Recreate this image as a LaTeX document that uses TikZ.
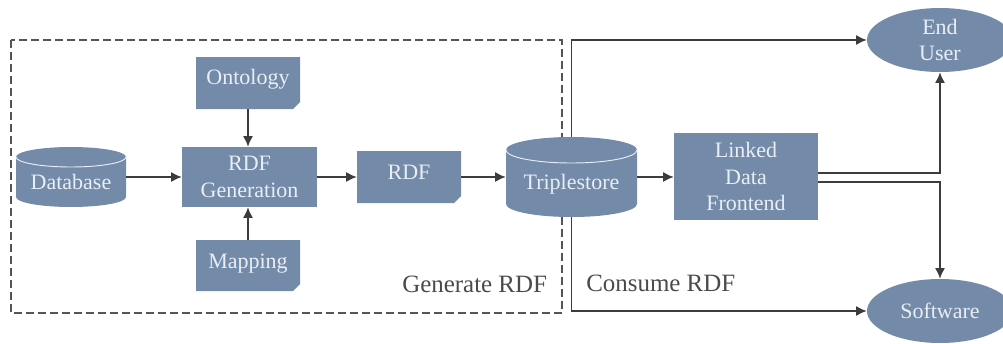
\documentclass[tikz,border=0pt]{standalone}
\usepackage{fontspec}
\setmainfont{Liberation Serif}
\usetikzlibrary{arrows.meta,shapes.geometric}
\definecolor{shapeblue}{HTML}{738AA9}
\definecolor{lighttext}{HTML}{E9EEF4}
\definecolor{linegrey}{HTML}{3C3C3C}
\definecolor{labelgrey}{HTML}{4A4A4A}
\definecolor{dashgrey}{HTML}{555555}
\tikzset{
  shapefill/.style={fill=shapeblue,draw=none},
  boxtext/.style={text=lighttext,align=center,inner sep=0pt,font=\fontsize{16.5}{20}\selectfont},
  holder/.style={draw=none,fill=none,inner sep=0pt,text=lighttext,align=center,font=\fontsize{16.5}{20}\selectfont},
  conn/.style={draw=linegrey,line width=1pt,-{Latex[length=8pt,width=7.5pt]}},
  groupbox/.style={draw=dashgrey,line width=0.9pt,dash pattern=on 6pt off 3pt},
  caption/.style={text=labelgrey,inner sep=0pt,anchor=base west,font=\fontsize{18.7}{22}\selectfont},
  rimline/.style={draw=lighttext,line width=0.7pt}
}
\newcommand{\snipbox}[4]{% x1,y1,x2,y2
  \fill[shapefill] (#1,#2) -- (#3,#2) -- (#3,#4-7) -- (#3-7,#4) -- (#1,#4) -- cycle;}
\newcommand{\drum}[5]{% x1,x2,ytop,ybottom,ry
  \pgfmathsetmacro{\rxv}{(#2-#1)/2}
  \fill[shapefill] (#1,#3+#5) arc[start angle=180,end angle=360,x radius=\rxv,y radius=#5]
    -- (#2,#4-#5) arc[start angle=0,end angle=180,x radius=\rxv,y radius=#5] -- cycle;
  \draw[rimline] (#1,#3+#5) arc[start angle=180,end angle=0,x radius=\rxv,y radius=#5];}
\begin{document}
\begin{tikzpicture}[x=0.75pt,y=-0.75pt]
\useasboundingbox (0,0) rectangle (1003,343);
\clip (0,0) rectangle (1003,343);
% group frame
\coordinate (fa) at (11,40);
\coordinate (fb) at (562,313);
\draw[groupbox] (fa) rectangle (fb);
% shape bodies
\drum{16}{126}{147}{207}{10}
\drum{506}{637}{137}{217}{13}
\snipbox{196}{57}{300}{109}
\snipbox{357}{151}{461}{203}
\snipbox{196}{240}{300}{291}
% nodes
\node[holder,minimum width=82.5pt,minimum height=45pt] (db) at (71,177) {\raisebox{-9pt}[0pt][0pt]{Database}};
\node[holder,minimum width=98.25pt,minimum height=60pt] (ts) at (571.5,177) {\raisebox{-9pt}[0pt][0pt]{Triplestore}};
\node[holder,minimum width=78pt,minimum height=39pt] (onto) at (248,83) {\raisebox{-0.75pt}[0pt][0pt]{Ontology}};
\node[holder,minimum width=78pt,minimum height=39pt] (rdf) at (409,177) {\raisebox{-1.5pt}[0pt][0pt]{RDF}};
\node[holder,minimum width=78pt,minimum height=38.25pt] (map) at (248,265.5) {\raisebox{-2pt}[0pt][0pt]{Mapping}};
\node[boxtext,fill=shapeblue,minimum width=101.25pt,minimum height=45pt] (gen) at (249.5,177) {RDF\\Generation};
\node[boxtext,fill=shapeblue,minimum width=108pt,minimum height=65.25pt] (lod) at (746,176.5) {Linked\\Data\\Frontend};
\node[boxtext,fill=shapeblue,ellipse,minimum width=109.5pt,minimum height=48pt] (user) at (940,40) {End\\User};
\node[boxtext,fill=shapeblue,ellipse,minimum width=109.5pt,minimum height=48pt] (soft) at (940,311) {Software};
% connectors
\draw[conn] (db.east) -- (gen.west);
\draw[conn] (onto.south) -- (gen.north -| onto.south);
\draw[conn] (map.north) -- (gen.south -| map.north);
\draw[conn] (gen.east) -- (rdf.west);
\draw[conn] (rdf.east) -- (ts.west);
\draw[conn] (ts.east) -- (lod.west |- ts.east);
\draw[conn] (ts.north) |- (user.west);
\draw[conn] (ts.south) |- (soft.west);
\coordinate (lodup) at ([yshift=2.6pt]lod.east);
\coordinate (loddown) at ([yshift=-4.1pt]lod.east);
\draw[conn] (lodup) -| (user.south);
\draw[conn] (loddown) -| (soft.north);
% captions
\node[caption] (gencap) at (402,292) {Generate RDF};
\node[caption] (concap) at (586,291) {Consume RDF};
\end{tikzpicture}
\end{document}
